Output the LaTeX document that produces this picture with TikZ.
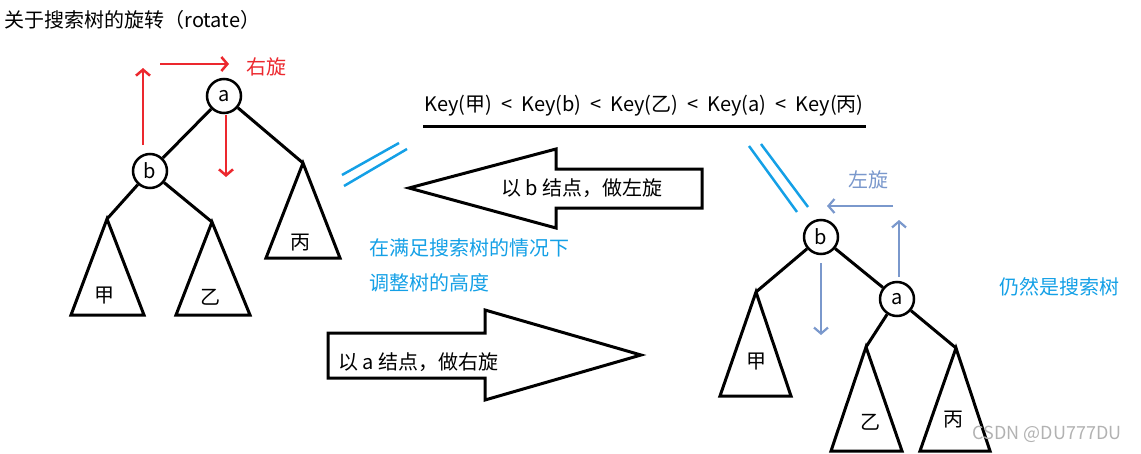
\documentclass[tikz,border=0pt]{standalone}
\usepackage{fontspec}
\setmainfont{Noto Sans CJK SC}
\usetikzlibrary{arrows.meta}
\definecolor{rotred}{RGB}{236,40,46}
\definecolor{notecyan}{RGB}{20,160,230}
\definecolor{turnblue}{RGB}{122,152,204}
\newcommand{\lessgap}{\hspace{0.45em}<\hspace{0.45em}}
\begin{document}
\begin{tikzpicture}[x=1pt,y=-1pt,
    tnode/.style={draw,circle,line width=2.5pt,minimum size=34pt,inner sep=0pt,font=\fontsize{20}{23}\selectfont},
    edge/.style={line width=3pt},
    subtree/.style={line width=3pt,line join=miter},
    lbl/.style={font=\fontsize{20}{23}\selectfont},
    note/.style={notecyan,font=\fontsize{20}{23}\selectfont,anchor=west},
    redarr/.style={rotred,line width=2.5pt,-{Straight Barb[length=6pt,width=14pt,line width=2.5pt]}},
    bluearr/.style={turnblue,line width=2.2pt,-{Straight Barb[length=6pt,width=14pt,line width=2.2pt]}},
    eqline/.style={notecyan,line width=2.5pt},
    bigarrow/.style={draw,line width=3pt,line join=miter,fill=white}]
\useasboundingbox (0,0) rectangle (1141,453);
\node [lbl,anchor=west] (title) at (1,20) {关于搜索树的旋转（rotate）};
% left tree
\node [tnode] (a) at (224,96) {a};
\node [tnode] (b) at (150,171) {b};
\coordinate (jia) at (107,219);
\coordinate (yi) at (212,222);
\coordinate (bing) at (303,163);
\draw [edge] (a) -- (b);
\draw [edge] (a) -- (bing);
\draw [edge] (b) -- (jia);
\draw [edge] (b) -- (yi);
\draw [subtree] (jia) -- ++(-36,96) -- ++(73,0) -- cycle;
\draw [subtree] (yi) -- ++(-36,93) -- ++(74,0) -- cycle;
\draw [subtree] (bing) -- ++(-37,95) -- ++(74,0) -- cycle;
\node [lbl] (jial) at (104,296) {甲};
\node [lbl] (yil) at (210,297) {乙};
\node [lbl] (bingl) at (300,243) {丙};
\coordinate (ru0) at (143,145);
\coordinate (ru1) at (143,68);
\coordinate (rr0) at (160,64);
\coordinate (rr1) at (229,64);
\coordinate (rd0) at (226,115);
\coordinate (rd1) at (226,177);
\draw [redarr] (ru0) -- (ru1);
\draw [redarr] (rr0) -- (rr1);
\draw [redarr] (rd0) -- (rd1);
\node [rotred,lbl] (rlabel) at (266,67) {右旋};
% order of keys
\node [lbl] (keys) at (644,106) {Key(甲)\lessgap Key(b)\lessgap Key(乙)\lessgap Key(a)\lessgap Key(丙)};
\draw [line width=3pt] (423,126) -- (866,126);
\draw [eqline] (342,175) -- (399,143);
\draw [eqline] (344,186) -- (407,149);
\draw [eqline] (749,146) -- (797,212);
\draw [eqline] (761,144) -- (808,207);
% big arrows
\draw [bigarrow] (409,188) -- (556,149) -- (556,169) -- (702,169) -- (702,208) -- (556,208) -- (556,228) -- cycle;
\node [lbl] (lrot) at (582,188) {以 b 结点，做左旋};
\draw [bigarrow] (328,333) -- (485,333) -- (485,310) -- (641,355) -- (485,400) -- (485,378) -- (328,378) -- cycle;
\node [lbl,anchor=west] (rrot) at (335,362) {以 a 结点，做右旋};
\node [note] (cond1) at (366,248) {在满足搜索树的情况下};
\node [note] (cond2) at (366,283) {调整树的高度};
% right tree
\node [tnode] (b2) at (821,237) {b};
\node [tnode] (a2) at (897,299) {a};
\coordinate (jia2) at (756,292);
\coordinate (yi2) at (866,347);
\coordinate (bing2) at (956,348);
\draw [edge] (b2) -- (a2);
\draw [edge] (b2) -- (jia2);
\draw [edge] (a2) -- (yi2);
\draw [edge] (a2) -- (bing2);
\draw [subtree] (jia2) -- ++(-36,104) -- ++(71,0) -- cycle;
\draw [subtree] (yi2) -- ++(-35,104) -- ++(71,0) -- cycle;
\draw [subtree] (bing2) -- ++(-36,103) -- ++(70,0) -- cycle;
\node [lbl] (jial2) at (756,362) {甲};
\node [lbl] (yil2) at (870,422) {乙};
\node [lbl] (bingl2) at (953,420) {丙};
\coordinate (bd0) at (821,263);
\coordinate (bd1) at (821,335);
\coordinate (bu0) at (899,277);
\coordinate (bu1) at (899,220);
\coordinate (bl0) at (893,206);
\coordinate (bl1) at (827,206);
\draw [bluearr] (bd0) -- (bd1);
\draw [bluearr] (bu0) -- (bu1);
\draw [bluearr] (bl0) -- (bl1);
\node [turnblue,lbl] (llabel) at (868,180) {左旋};
\node [note] (still) at (996,287) {仍然是搜索树};
\node [gray!60,font=\fontsize{18}{21}\selectfont] (mark) at (1047,434) {CSDN @DU777DU};
\end{tikzpicture}
\end{document}
